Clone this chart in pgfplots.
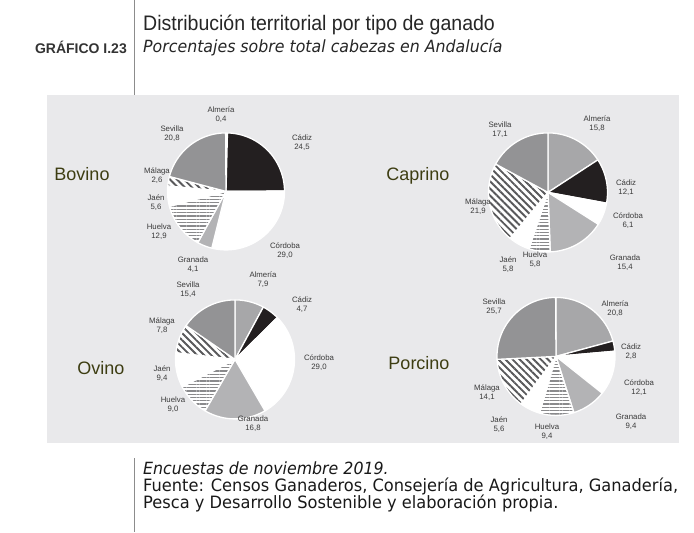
\documentclass[border=0pt]{standalone}
\usepackage{fontspec}
\setmainfont{Liberation Sans}
\newfontfamily\titlefont[FakeStretch=0.93]{Liberation Sans}
\newfontfamily\tahoma[FakeStretch=0.94]{DejaVu Sans}
\newfontfamily\tahomaw[FakeStretch=0.955]{DejaVu Sans}
\usepackage{pgfplots}
\pgfplotsset{compat=1.18}
\usetikzlibrary{patterns.meta}

\definecolor{cPanel}{HTML}{E9E9EB}
\definecolor{cAlm}{HTML}{A7A7A9}
\definecolor{cCad}{HTML}{231F20}
\definecolor{cGra}{HTML}{B3B3B5}
\definecolor{cSev}{HTML}{939395}
\definecolor{cHue}{HTML}{8A8A8C}
\definecolor{cMal}{HTML}{58585A}
\definecolor{cLbl}{HTML}{3A3A3A}
\definecolor{cPie}{HTML}{3D3D12}
\definecolor{cHead}{HTML}{333333}
\definecolor{cLine}{HTML}{8C8C8C}

\tikzset{
  wedge/.style={draw=white, line width=1.3pt, line join=round},
  nothing/.style={draw=none, fill=none},
  alm/.style={wedge, fill=cAlm},   alm2/.style={nothing},
  cad/.style={wedge, fill=cCad},   cad2/.style={nothing},
  cor/.style={wedge, fill=white},  cor2/.style={nothing},
  gra/.style={wedge, fill=cGra},   gra2/.style={nothing},
  jae/.style={wedge, fill=white},  jae2/.style={nothing},
  sev/.style={wedge, fill=cSev},   sev2/.style={nothing},
  hue/.style={draw=none, fill=white},
  hue2/.style={wedge, pattern={Lines[angle=0, distance=3.3pt, line width=1.3pt]}, pattern color=cHue},
  mal/.style={draw=none, fill=white},
  mal2/.style={wedge, pattern={Lines[angle=-45, distance=5pt, line width=1.9pt]}, pattern color=cMal},
  lbl/.style={align=center, inner sep=0pt, text=cLbl, font=\fontsize{7.8}{9.4}\selectfont},
  ptitle/.style={inner sep=0pt, text=cPie, font=\fontsize{18}{18}\selectfont},
}

% #1 cx, #2 cy, #3 radius, #4 list value/style (clockwise from 12 o'clock)
\newcommand{\drawpie}[4]{%
  \gdef\cum{0}%
  \foreach \v/\s in {#4}{%
    \pgfmathsetmacro\aA{-90+3.6*\cum}%
    \pgfmathsetmacro\aB{-90+3.6*(\cum+\v)}%
    \pgfmathsetmacro\newcum{\cum+\v}%
    \xdef\cum{\newcum}%
    \edef\doslice{%
      \noexpand\addplot[\s, domain=\aA:\aB, samples=60] ({#1+#3*cos(x)},{#2+#3*sin(x)}) -- (axis cs:#1,#2) -- cycle;%
      \noexpand\addplot[\s2, domain=\aA:\aB, samples=60] ({#1+#3*cos(x)},{#2+#3*sin(x)}) -- (axis cs:#1,#2) -- cycle;%
    }%
    \doslice
  }%
}

\begin{document}
\begin{tikzpicture}
\begin{axis}[
  scale only axis, width=694pt, height=532pt,
  xmin=0, xmax=694, ymin=0, ymax=532, y dir=reverse,
  hide axis, clip=false, trig format plots=deg,
]
\fill[white] (axis cs:0,0) rectangle (axis cs:694,532);
\fill[cPanel] (axis cs:47,95) rectangle (axis cs:679,443);
\draw[cLine, line width=0.8pt] (axis cs:134,0) -- (axis cs:134,95);
\draw[cLine, line width=0.8pt] (axis cs:134,458) -- (axis cs:134,532);

% Order: Almeria, Cadiz, Cordoba, Granada, Huelva, Jaen, Malaga, Sevilla
% Bovino
\drawpie{226}{191}{58.5}{0.4/alm, 24.5/cad, 29.0/cor, 4.1/gra, 12.9/hue, 5.6/jae, 2.6/mal, 20.8/sev}
% Caprino
\drawpie{548}{192}{59.5}{15.8/alm, 12.1/cad, 6.1/cor, 15.4/gra, 5.8/hue, 5.8/jae, 21.9/mal, 17.1/sev}
% Ovino
\drawpie{235}{359}{59.5}{7.9/alm, 4.7/cad, 29.0/cor, 16.8/gra, 9.0/hue, 9.4/jae, 7.8/mal, 15.4/sev}
% Porcino
\drawpie{556}{356}{59}{20.8/alm, 2.8/cad, 12.1/cor, 9.4/gra, 9.4/hue, 5.6/jae, 14.1/mal, 25.7/sev}

% pie titles
\node[ptitle] at (axis cs:82,174) {Bovino};
\node[ptitle] at (axis cs:418,175) {Caprino};
\node[ptitle] at (axis cs:101,368) {Ovino};
\node[ptitle] at (axis cs:419,363) {Porcino};

% Bovino labels
\node[lbl] at (axis cs:221,114.5) {Almería\\0,4};
\node[lbl] at (axis cs:172,133) {Sevilla\\20,8};
\node[lbl] at (axis cs:302,142.5) {Cádiz\\24,5};
\node[lbl] at (axis cs:157,175) {Málaga\\2,6};
\node[lbl] at (axis cs:156,202) {Jaén\\5,6};
\node[lbl] at (axis cs:159,231.5) {Huelva\\12,9};
\node[lbl] at (axis cs:193,264.5) {Granada\\4,1};
\node[lbl] at (axis cs:285,250.5) {Córdoba\\29,0};

% Caprino labels
\node[lbl] at (axis cs:500,129.5) {Sevilla\\17,1};
\node[lbl] at (axis cs:597,123.5) {Almería\\15,8};
\node[lbl] at (axis cs:626,187) {Cádiz\\12,1};
\node[lbl] at (axis cs:628,220) {Córdoba\\6,1};
\node[lbl] at (axis cs:625,262) {Granada\\15,4};
\node[lbl] at (axis cs:535,259.5) {Huelva\\5,8};
\node[lbl] at (axis cs:508,264) {Jaén\\5,8};
\node[lbl] at (axis cs:478,206) {Málaga\\21,9};

% Ovino labels
\node[lbl] at (axis cs:263,279.5) {Almería\\7,9};
\node[lbl] at (axis cs:188,289.5) {Sevilla\\15,4};
\node[lbl] at (axis cs:302,304.5) {Cádiz\\4,7};
\node[lbl] at (axis cs:162,325.5) {Málaga\\7,8};
\node[lbl] at (axis cs:319,362) {Córdoba\\29,0};
\node[lbl] at (axis cs:162,373.5) {Jaén\\9,4};
\node[lbl] at (axis cs:173,404.5) {Huelva\\9,0};
\node[lbl] at (axis cs:253,423.5) {Granada\\16,8};

% Porcino labels
\node[lbl] at (axis cs:494,306.5) {Sevilla\\25,7};
\node[lbl] at (axis cs:615,308.5) {Almería\\20,8};
\node[lbl] at (axis cs:631,351.5) {Cádiz\\2,8};
\node[lbl] at (axis cs:639,387.5) {Córdoba\\12,1};
\node[lbl] at (axis cs:631,421) {Granada\\9,4};
\node[lbl] at (axis cs:547,431.5) {Huelva\\9,4};
\node[lbl] at (axis cs:499,424.5) {Jaén\\5,6};
\node[lbl] at (axis cs:487,392) {Málaga\\14,1};

% header
\node[anchor=base east, inner sep=0pt, text=cHead, font=\bfseries\fontsize{14}{14}\selectfont] at (axis cs:127,53) {GRÁFICO I.23};
\node[anchor=base west, inner sep=0pt, text=black!85] at (axis cs:143,30) {\titlefont\fontsize{21}{21}\selectfont Distribución territorial por tipo de ganado};
\node[anchor=base west, inner sep=0pt, text=black!85] at (axis cs:143,52) {\tahoma\itshape\fontsize{16.8}{16.8}\selectfont Porcentajes sobre total cabezas en Andalucía};

% footer
\node[anchor=base west, inner sep=0pt, text=black!90] at (axis cs:143,474) {\tahoma\itshape\fontsize{16.8}{16.8}\selectfont Encuestas de noviembre 2019.};
\node[anchor=base west, inner sep=0pt, text=black!90] at (axis cs:143,491) {\tahomaw\fontsize{17}{17}\selectfont Fuente: Censos Ganaderos, Consejería de Agricultura, Ganadería,};
\node[anchor=base west, inner sep=0pt, text=black!90] at (axis cs:143,508.5) {\tahomaw\fontsize{17}{17}\selectfont Pesca y Desarrollo Sostenible y elaboración propia.};
\end{axis}
\end{tikzpicture}
\end{document}
